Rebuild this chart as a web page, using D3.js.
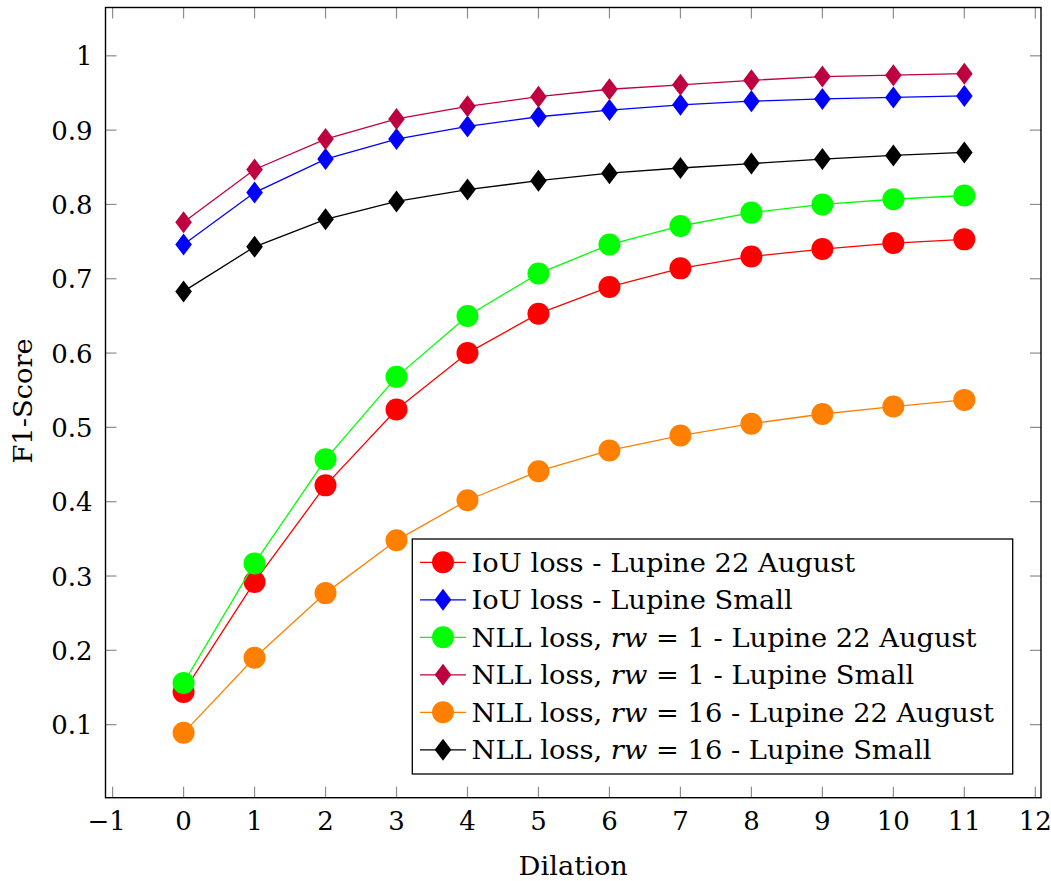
<!DOCTYPE html>
<html>
<head>
<meta charset="utf-8">
<script src="https://cdn.jsdelivr.net/npm/d3@7"></script>
<style>
  html, body { margin: 0; padding: 0; background: #fff; }
  svg { display: block; }
  text { font-family: "DejaVu Serif", serif; fill: #000; }
</style>
</head>
<body>
<svg id="chart" width="1051" height="881"></svg>
<script>
// ---- Data ----
const dilation = [0, 1, 2, 3, 4, 5, 6, 7, 8, 9, 10, 11];
const iouAugust   = [0.144, 0.292, 0.422, 0.524, 0.600, 0.653, 0.689, 0.714, 0.730, 0.740, 0.748, 0.753];
const iouSmall    = [0.746, 0.816, 0.861, 0.888, 0.905, 0.918, 0.927, 0.934, 0.939, 0.942, 0.944, 0.946];
const nll1August  = [0.156, 0.317, 0.457, 0.568, 0.650, 0.707, 0.746, 0.771, 0.789, 0.800, 0.807, 0.812];
const nll1Small   = [0.776, 0.847, 0.888, 0.915, 0.932, 0.945, 0.955, 0.961, 0.967, 0.972, 0.974, 0.976];
const nll16August = [0.089, 0.190, 0.277, 0.348, 0.402, 0.441, 0.469, 0.489, 0.505, 0.518, 0.528, 0.537];
const nll16Small  = [0.683, 0.743, 0.780, 0.804, 0.820, 0.832, 0.842, 0.849, 0.855, 0.861, 0.866, 0.870];
const xTicks = [-1, 0, 1, 2, 3, 4, 5, 6, 7, 8, 9, 10, 11, 12];
const yTicks = [0.1, 0.2, 0.3, 0.4, 0.5, 0.6, 0.7, 0.8, 0.9, 1];

const series = [
  { name: ["IoU loss - Lupine 22 August"], values: iouAugust, color: "#ff0000", mark: "circle" },
  { name: ["IoU loss - Lupine Small"], values: iouSmall, color: "#0000ff", mark: "diamond" },
  { name: ["NLL loss, ", "rw", " = 1 - Lupine 22 August"], values: nll1August, color: "#00ff00", mark: "circle" },
  { name: ["NLL loss, ", "rw", " = 1 - Lupine Small"], values: nll1Small, color: "#bf0040", mark: "diamond" },
  { name: ["NLL loss, ", "rw", " = 16 - Lupine 22 August"], values: nll16August, color: "#ff8000", mark: "circle" },
  { name: ["NLL loss, ", "rw", " = 16 - Lupine Small"], values: nll16Small, color: "#000000", mark: "diamond" }
];

// ---- Layout ----
const svg = d3.select("#chart");
const L = 105.5, R = 1041, T = 7.5, B = 797.7;
const x = d3.scaleLinear().domain([-1.1, 12.08]).range([L, R]);
const y = d3.scaleLinear().domain([0.0017, 1.065]).range([B, T]);
const FS = 26;
const STRETCH = 1.05;

function stretch(sel) {
  sel.each(function () {
    const w = this.getComputedTextLength();
    d3.select(this).attr("textLength", w * STRETCH).attr("lengthAdjust", "spacingAndGlyphs");
  });
}

// ---- Ticks (inward, all sides) ----
const tickLen = 11;
const tickColor = "#8c8c8c";
const gT = svg.append("g");
xTicks.forEach(t => {
  gT.append("line").attr("x1", x(t)).attr("x2", x(t)).attr("y1", B).attr("y2", B - tickLen)
    .attr("stroke", tickColor).attr("stroke-width", 1.2);
  gT.append("line").attr("x1", x(t)).attr("x2", x(t)).attr("y1", T).attr("y2", T + tickLen)
    .attr("stroke", tickColor).attr("stroke-width", 1.2);
});
yTicks.forEach(t => {
  gT.append("line").attr("x1", L).attr("x2", L + tickLen).attr("y1", y(t)).attr("y2", y(t))
    .attr("stroke", tickColor).attr("stroke-width", 1.2);
  gT.append("line").attr("x1", R).attr("x2", R - tickLen).attr("y1", y(t)).attr("y2", y(t))
    .attr("stroke", tickColor).attr("stroke-width", 1.2);
});

// Tick labels
const fmtX = d => d < 0 ? "\u2212" + Math.abs(d) : String(d);
const fmtY = d => d === 1 ? "1" : d3.format(".1f")(d);
svg.append("g").selectAll("text").data(xTicks).join("text")
  .attr("x", d => x(d) - (d < 0 ? 6 : 0)).attr("y", 830)
  .attr("text-anchor", "middle").attr("font-size", FS).text(fmtX);
svg.append("g").selectAll("text").data(yTicks).join("text")
  .attr("x", 92.5).attr("y", d => y(d) + 9.5)
  .attr("text-anchor", "end").attr("font-size", FS).text(fmtY);

// Axis labels
svg.append("text").attr("x", (L + R) / 2).attr("y", 875).attr("text-anchor", "middle")
  .attr("font-size", FS).text("Dilation").call(stretch);
svg.append("text").attr("transform", "translate(32," + 401 + ") rotate(-90)")
  .attr("text-anchor", "middle").attr("font-size", FS).text("F1-Score").call(stretch);

// ---- Series ----
const line = d3.line().x((d, i) => x(dilation[i])).y(d => y(d));
const diamondPath = (cx, cy) => `M${cx},${cy - 11}L${cx + 8.3},${cy}L${cx},${cy + 11}L${cx - 8.3},${cy}Z`;

function drawMark(g, mark, cx, cy, color) {
  if (mark === "circle") {
    g.append("circle").attr("cx", cx).attr("cy", cy).attr("r", 11).attr("fill", color);
  } else {
    g.append("path").attr("d", diamondPath(cx, cy)).attr("fill", color);
  }
}

const gS = svg.append("g");
series.forEach(s => {
  const g = gS.append("g");
  g.append("path").datum(s.values).attr("d", line).attr("fill", "none")
    .attr("stroke", s.color).attr("stroke-width", 1.3);
  s.values.forEach((v, i) => drawMark(g, s.mark, x(dilation[i]), y(v), s.color));
});

// ---- Frame ----
svg.append("rect").attr("x", L).attr("y", T).attr("width", R - L).attr("height", B - T)
  .attr("fill", "none").attr("stroke", "#000").attr("stroke-width", 1.4);

// ---- Legend ----
const lg = svg.append("g");
const lgL = 412.3, lgT = 539, lgR = 1012.7, lgB = 774;
lg.append("rect").attr("x", lgL).attr("y", lgT).attr("width", lgR - lgL).attr("height", lgB - lgT)
  .attr("fill", "#fff").attr("stroke", "#000").attr("stroke-width", 1.3);
series.forEach((s, i) => {
  const cy = 562.3 + i * 37.5;
  lg.append("line").attr("x1", 420).attr("x2", 466).attr("y1", cy).attr("y2", cy)
    .attr("stroke", s.color).attr("stroke-width", 1.3);
  drawMark(lg, s.mark, 443, cy, s.color);
  const t = lg.append("text").attr("x", 471.5).attr("y", cy + 9.5).attr("font-size", FS);
  s.name.forEach((part, k) => {
    t.append("tspan").attr("font-style", part === "rw" ? "italic" : null).text(part);
  });
  t.call(stretch);
});
</script>
</body>
</html>
